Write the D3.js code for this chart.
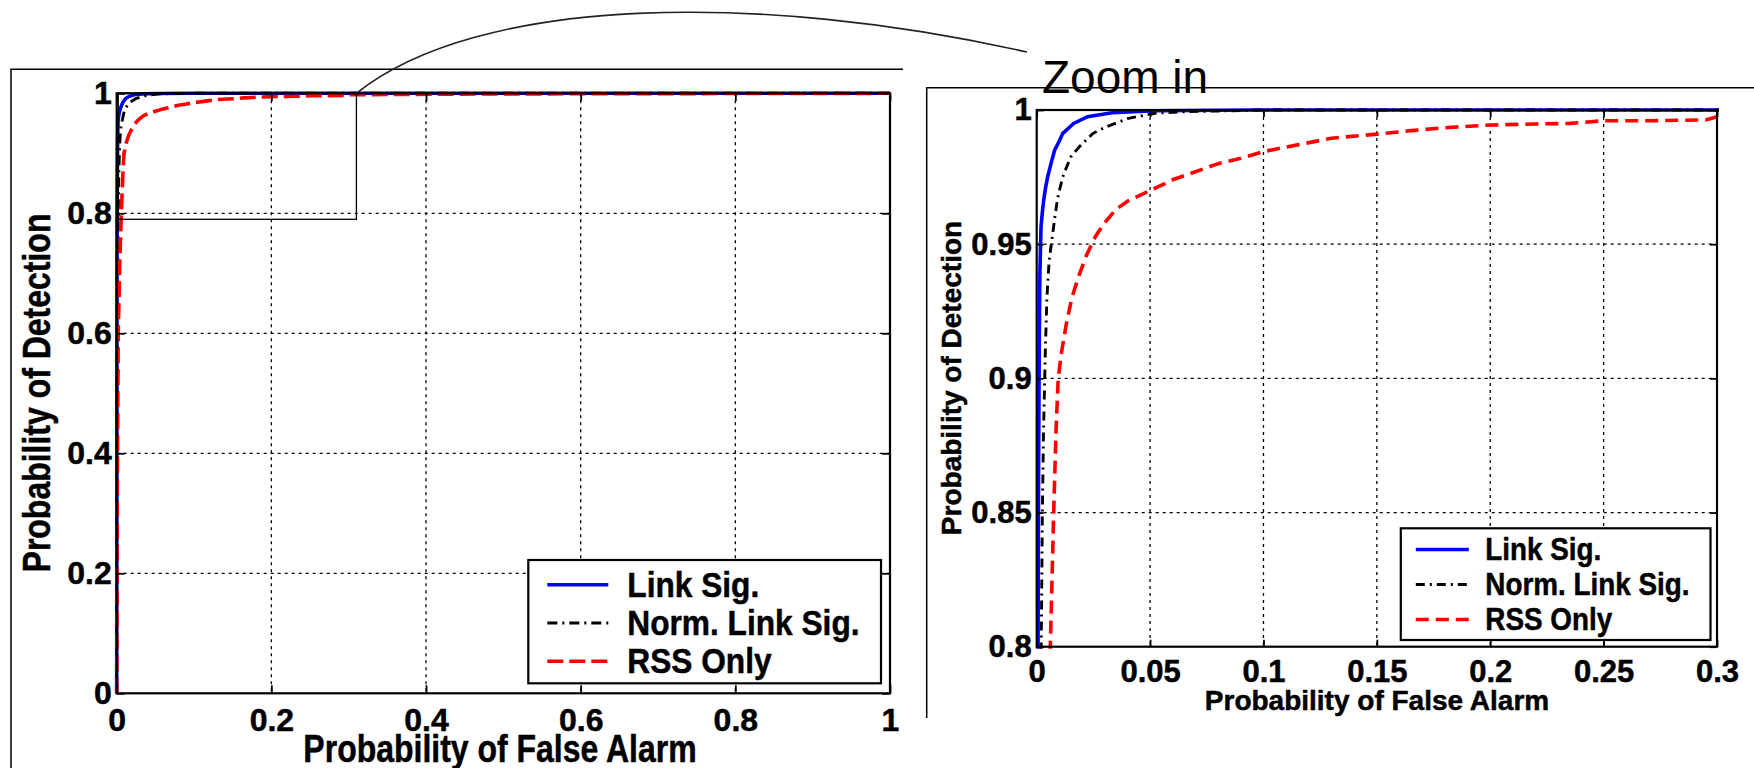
<!DOCTYPE html>
<html>
<head>
<meta charset="utf-8">
<script src="https://cdn.jsdelivr.net/npm/d3@7"></script>
<style>
  body { margin: 0; background: #fff; }
  svg { display: block; }
</style>
</head>
<body>
<div id="chart"></div>
<script>
// ROC curves: probability of false alarm vs detection
const seriesNames = ["Link Sig.", "Norm. Link Sig.", "RSS Only"];

const linkSigFA = [0, 0.0002, 0.0004, 0.0006, 0.0008, 0.0011, 0.0014, 0.0019, 0.0025, 0.0031, 0.0039, 0.0048, 0.0063, 0.0079, 0.0097, 0.0115, 0.0163, 0.0224, 0.0332, 0.0524, 0.098, 1];
const linkSigPD = [0, 0.4, 0.7, 0.8, 0.86, 0.91, 0.939, 0.9565, 0.962, 0.9665, 0.971, 0.975, 0.98, 0.985, 0.988, 0.9913, 0.995, 0.9975, 0.999, 0.9997, 1, 1];

const normLinkSigFA = [0, 0.0005, 0.001, 0.0015, 0.002, 0.0025, 0.003, 0.0038, 0.0045, 0.0055, 0.0067, 0.008, 0.0091, 0.0103, 0.0115, 0.0133, 0.0151, 0.0188, 0.0248, 0.0308, 0.0404, 0.0524, 0.0668, 0.084, 0.1, 1];
const normLinkSigPD = [0, 0.3, 0.55, 0.7, 0.8, 0.85, 0.88, 0.91, 0.93, 0.944, 0.9516, 0.96, 0.9665, 0.971, 0.975, 0.979, 0.9826, 0.9863, 0.9913, 0.9938, 0.9969, 0.9988, 0.9994, 0.9997, 1, 1];

const rssOnlyFA = [0, 0.0005, 0.002, 0.004, 0.006, 0.0075, 0.0085, 0.0095, 0.011, 0.013, 0.0155, 0.0185, 0.022, 0.026, 0.03, 0.035, 0.04, 0.045, 0.05, 0.06, 0.07, 0.08, 0.09, 0.1, 0.115, 0.13, 0.15, 0.165, 0.18, 0.2, 0.22, 0.235, 0.25, 0.27, 0.295, 0.3, 0.35, 0.5, 1];
const rssOnlyPD = [0, 0.3, 0.6, 0.72, 0.8, 0.85, 0.88, 0.9, 0.91, 0.92, 0.93, 0.938, 0.946, 0.953, 0.958, 0.963, 0.966, 0.968, 0.97, 0.974, 0.977, 0.98, 0.982, 0.9845, 0.987, 0.9895, 0.991, 0.9923, 0.9934, 0.9944, 0.9948, 0.995, 0.996, 0.996, 0.9963, 0.9975, 0.998, 0.999, 1];

const fullXTicks = [0, 0.2, 0.4, 0.6, 0.8, 1];
const fullYTicks = [0, 0.2, 0.4, 0.6, 0.8, 1];
const zoomXTicks = [0, 0.05, 0.1, 0.15, 0.2, 0.25, 0.3];
const zoomYTicks = [0.8, 0.85, 0.9, 0.95, 1];

// part of the full plot shown on the right: [x0, x1, y0, y1]
const zoomWindow = [0.002, 0.31, 0.79, 1];

const FONT = "'Liberation Sans', Arial, Helvetica, sans-serif";

const series = [
  { name: seriesNames[0], fa: linkSigFA, pd: linkSigPD, color: "#0000ff", width: 3.6, kind: "solid" },
  { name: seriesNames[1], fa: normLinkSigFA, pd: normLinkSigPD, color: "#000000", width: 2.9, kind: "dashdot" },
  { name: seriesNames[2], fa: rssOnlyFA, pd: rssOnlyPD, color: "#ff0000", width: 3.6, kind: "dash" }
];

// heavy bold look of the original bitmap text
function boldText(sel, size) {
  sel.attr("font-family", FONT)
    .attr("font-weight", "bold")
    .attr("font-size", size)
    .attr("fill", "#000")
    .attr("stroke", "#000")
    .attr("stroke-width", 0.5);
}

function drawPanel(svg, p) {
  const x = d3.scaleLinear().domain([p.xTicks[0], p.xTicks[p.xTicks.length - 1]])
    .range([p.left, p.left + p.width]);
  const y = d3.scaleLinear().domain([p.yTicks[0], p.yTicks[p.yTicks.length - 1]])
    .range([p.top + p.height, p.top]);

  const g = svg.append("g");

  // Dotted grid
  g.selectAll(".vgrid")
    .data(p.xTicks.slice(1, -1))
    .enter()
    .append("line")
    .attr("x1", (d) => x(d))
    .attr("x2", (d) => x(d))
    .attr("y1", p.top)
    .attr("y2", p.top + p.height)
    .attr("stroke", "#000")
    .attr("stroke-width", 1.3)
    .attr("stroke-dasharray", "3,4");

  g.selectAll(".hgrid")
    .data(p.yTicks.slice(1, -1))
    .enter()
    .append("line")
    .attr("x1", p.left)
    .attr("x2", p.left + p.width)
    .attr("y1", (d) => y(d))
    .attr("y2", (d) => y(d))
    .attr("stroke", "#000")
    .attr("stroke-width", 1.3)
    .attr("stroke-dasharray", "3,4");

  // Curves
  const clipId = "clip-" + p.id;
  svg.append("clipPath")
    .attr("id", clipId)
    .append("rect")
    .attr("x", p.left - 2)
    .attr("y", p.top - 2)
    .attr("width", p.width + 4)
    .attr("height", p.height + 4);

  const line = d3.line().x((d) => x(d[0])).y((d) => y(d[1]));

  g.append("g")
    .attr("clip-path", p.clip ? `url(#${clipId})` : null)
    .selectAll("path")
    .data(series)
    .enter()
    .append("path")
    .attr("d", (s) => line(d3.zip(s.fa, s.pd)))
    .attr("fill", "none")
    .attr("stroke", (s) => s.color)
    .attr("stroke-width", (s) => s.width)
    .attr("stroke-dasharray", (s) => p.dash[s.kind]);

  // Axes box
  g.append("rect")
    .attr("x", p.left)
    .attr("y", p.top)
    .attr("width", p.width)
    .attr("height", p.height)
    .attr("fill", "none")
    .attr("stroke", "#000")
    .attr("stroke-width", 2.2);

  // Ticks on all four sides, pointing inward
  const styleAxis = (a) => {
    a.select(".domain").remove();
    a.selectAll(".tick line").attr("stroke-width", 1.8);
    a.selectAll(".tick text").call(boldText, p.tickFont);
  };
  const fmt = (d) => String(d);

  g.append("g")
    .attr("transform", `translate(0,${p.top + p.height})`)
    .call(d3.axisBottom(x).tickValues(p.xTicks).tickFormat(fmt)
      .tickSizeInner(-p.tickLen).tickSizeOuter(0).tickPadding(p.xPad))
    .call(styleAxis);
  g.append("g")
    .attr("transform", `translate(0,${p.top})`)
    .call(d3.axisTop(x).tickValues(p.xTicks).tickFormat("")
      .tickSizeInner(-p.tickLen).tickSizeOuter(0))
    .call(styleAxis);
  g.append("g")
    .attr("transform", `translate(${p.left},0)`)
    .call(d3.axisLeft(y).tickValues(p.yTicks).tickFormat(fmt)
      .tickSizeInner(-p.tickLen).tickSizeOuter(0).tickPadding(p.yPad))
    .call(styleAxis);
  g.append("g")
    .attr("transform", `translate(${p.left + p.width},0)`)
    .call(d3.axisRight(y).tickValues(p.yTicks).tickFormat("")
      .tickSizeInner(-p.tickLen).tickSizeOuter(0))
    .call(styleAxis);

  // Axis titles
  g.append("text")
    .attr("transform", `translate(${p.xTitle[0]},${p.xTitle[1]}) scale(${p.titleSqueeze},1)`)
    .attr("text-anchor", "middle")
    .call(boldText, p.titleFont)
    .text("Probability of False Alarm");

  g.append("text")
    .attr("transform", `translate(${p.yTitle[0]},${p.yTitle[1]}) rotate(-90) scale(${p.titleSqueeze},1)`)
    .attr("text-anchor", "middle")
    .call(boldText, p.titleFont)
    .text("Probability of Detection");

  // Legend
  const L = p.legend;
  const lg = g.append("g").attr("transform", `translate(${L.x},${L.y})`);
  lg.append("rect")
    .attr("width", L.w)
    .attr("height", L.h)
    .attr("fill", "#fff")
    .attr("stroke", "#000")
    .attr("stroke-width", 2.2);

  const rows = lg.selectAll(".row")
    .data(series)
    .enter()
    .append("g")
    .attr("transform", (s, i) => `translate(0,${L.base0 + i * L.step})`);

  rows.append("line")
    .attr("x1", L.lineX0)
    .attr("x2", L.lineX1)
    .attr("y1", -L.lineOff)
    .attr("y2", -L.lineOff)
    .attr("stroke", (s) => s.color)
    .attr("stroke-width", (s) => s.width)
    .attr("stroke-dasharray", (s) => p.dash[s.kind]);

  rows.append("text")
    .attr("transform", `translate(${L.textX},0) scale(${L.squeeze},1)`)
    .call(boldText, L.font)
    .text((s) => s.name);

  return { x, y };
}

function drawFigure() {
  const width = 1754;
  const height = 768;

  const chartContainer = d3.select("#chart");
  chartContainer.selectAll("svg").remove();

  const svg = chartContainer
    .append("svg")
    .attr("width", width)
    .attr("height", height);

  // Picture frames (only top and left edges show)
  svg.append("path")
    .attr("d", `M11,${height} V69.3 H903`)
    .attr("fill", "none")
    .attr("stroke", "#000")
    .attr("stroke-width", 1.5);
  svg.append("path")
    .attr("d", `M926.7,718 V87.7 H${width}`)
    .attr("fill", "none")
    .attr("stroke", "#000")
    .attr("stroke-width", 1.5);

  const full = drawPanel(svg, {
    id: "full",
    left: 116.7, top: 93.3, width: 773.3, height: 600,
    xTicks: fullXTicks, yTicks: fullYTicks,
    tickLen: 8, tickFont: 32, xPad: 15, yPad: 5,
    titleFont: 39, titleSqueeze: 0.82,
    xTitle: [500, 762], yTitle: [50, 393],
    clip: false,
    dash: { solid: null, dashdot: "10,5,2,5", dash: "16,6" },
    legend: {
      x: 528.3, y: 560, w: 352.7, h: 123.3,
      lineX0: 19, lineX1: 80, textX: 99,
      base0: 36.7, step: 38.3, lineOff: 12,
      font: 36, squeeze: 0.88
    }
  });

  drawPanel(svg, {
    id: "zoom",
    left: 1036.7, top: 110, width: 680.3, height: 536.7,
    xTicks: zoomXTicks, yTicks: zoomYTicks,
    tickLen: 7, tickFont: 31, xPad: 13, yPad: 5,
    titleFont: 28, titleSqueeze: 1,
    xTitle: [1377, 710], yTitle: [961, 378],
    clip: true,
    dash: { solid: null, dashdot: "9,5,2,5", dash: "13,7" },
    legend: {
      x: 1400.8, y: 528.3, w: 309.7, h: 111.7,
      lineX0: 15, lineX1: 68, textX: 84.5,
      base0: 31.7, step: 35, lineOff: 10.5,
      font: 32, squeeze: 0.87
    }
  });

  // Zoom window marked on the full plot
  const [zx0, zx1, zy0, zy1] = zoomWindow;
  svg.append("rect")
    .attr("x", full.x(zx0))
    .attr("y", full.y(zy1))
    .attr("width", full.x(zx1) - full.x(zx0))
    .attr("height", full.y(zy0) - full.y(zy1))
    .attr("fill", "none")
    .attr("stroke", "#000")
    .attr("stroke-width", 1.3);

  // Callout label and connecting curve
  const labelX = 1042;
  const labelY = 93;
  svg.append("text")
    .attr("x", labelX)
    .attr("y", labelY)
    .attr("font-family", FONT)
    .attr("font-size", 46)
    .text("Zoom in");

  const sx = full.x(zx1);
  const sy = full.y(zy1);
  const arc = d3.path();
  arc.moveTo(sx, sy);
  arc.bezierCurveTo(sx + 123, sy - 98, 760, -8, labelX - 15, labelY - 41);
  svg.append("path")
    .attr("d", arc.toString())
    .attr("fill", "none")
    .attr("stroke", "#222")
    .attr("stroke-width", 1.6);
}

window.onload = function () {
  drawFigure();
};
</script>
</body>
</html>
